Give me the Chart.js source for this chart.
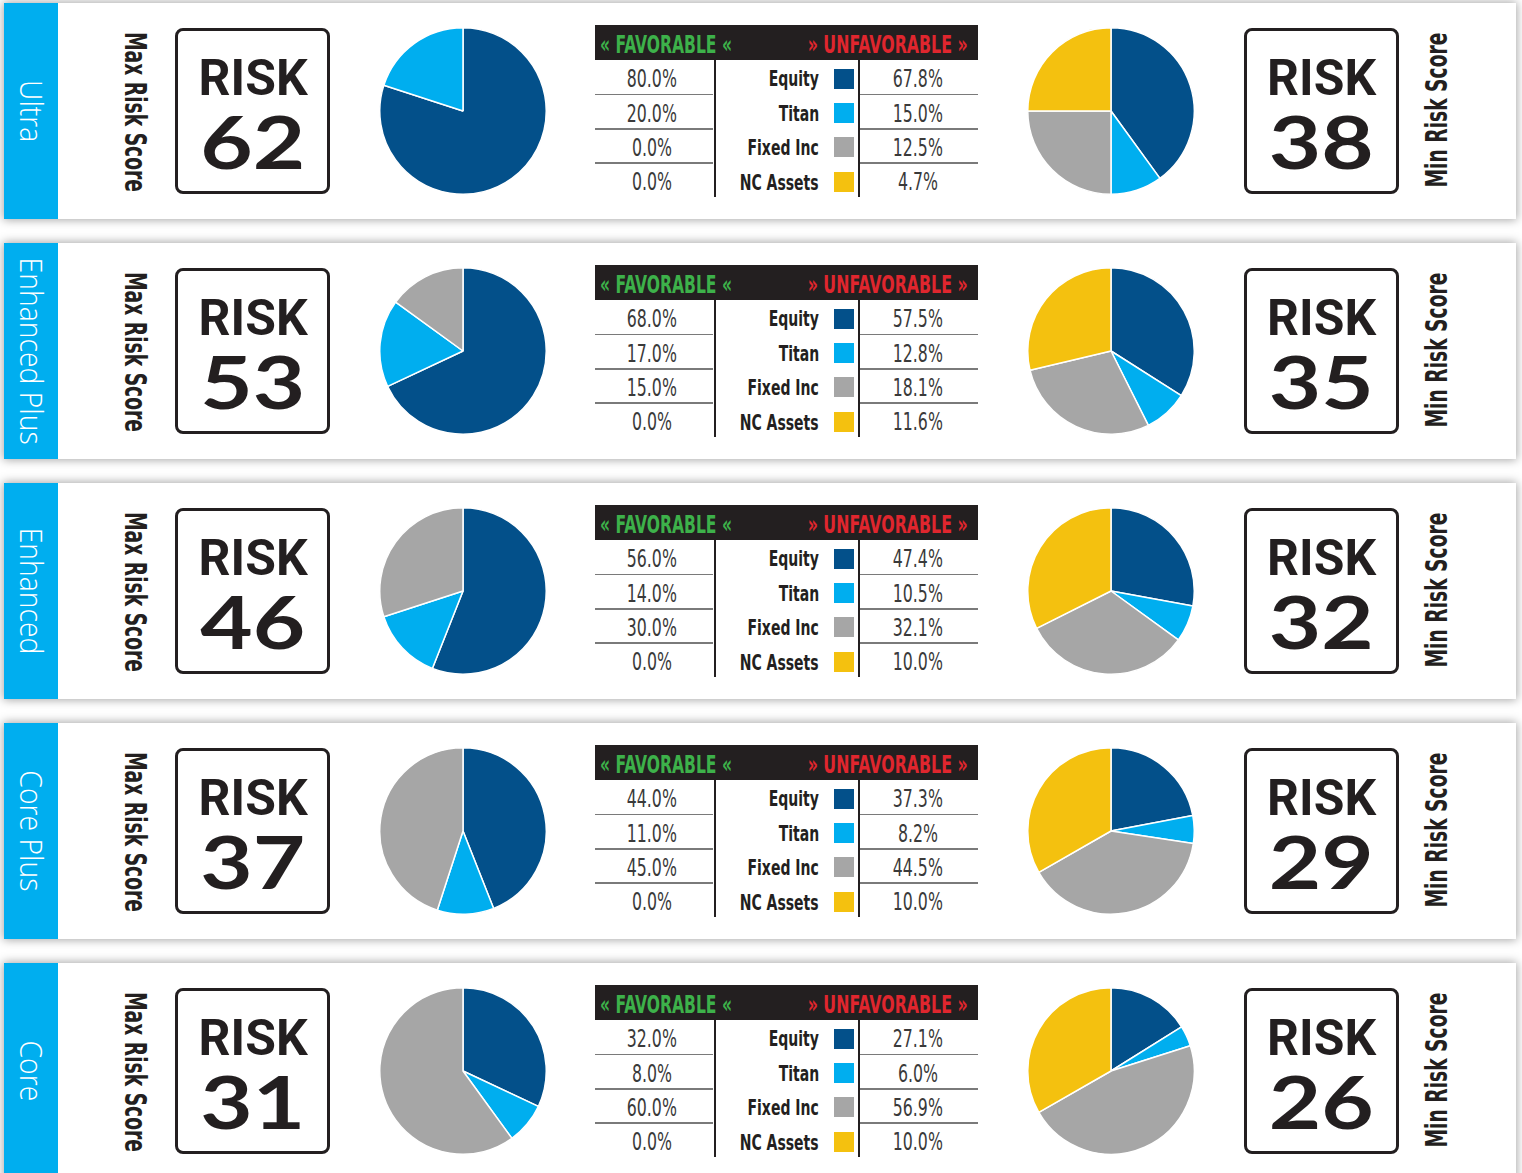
<!DOCTYPE html>
<html>
<head>
<meta charset="utf-8">
<title>Risk Score Portfolios</title>
<script src="https://cdn.jsdelivr.net/npm/chart.js@4.4.1/dist/chart.umd.min.js"></script>
<style>
    body {
        margin: 0;
        width: 1522px;
        height: 1173px;
        overflow: hidden;
        position: relative;
        background: #fff;
    }
    .panel {
        position: absolute;
        left: 4px;
        width: 1512px;
        height: 216px;
        background: #fff;
        box-shadow: 0 0 9px 1px rgba(0, 0, 0, 0.35);
    }
    .side {
        position: absolute;
        left: 0;
        top: 0;
        width: 54px;
        height: 100%;
        background: #00aeef;
    }
    .t {
        position: absolute;
        left: 0;
        top: 0;
        white-space: nowrap;
        line-height: 0.75;
    }
    .b {
        display: inline-block;
        width: 0;
        height: 0;
    }
    .box {
        position: absolute;
        top: 25px;
        width: 149px;
        height: 160px;
        border: 3px solid #231f20;
        border-radius: 8px;
    }
    .hdr {
        position: absolute;
        left: 591px;
        top: 22px;
        width: 383px;
        height: 35px;
        background: #231f20;
    }
    .hl {
        position: absolute;
        height: 1.5px;
        width: 118px;
        background: #7a7a7a;
    }
    .vl {
        position: absolute;
        top: 57px;
        width: 2.5px;
        height: 137px;
        background: #231f20;
    }
    .sw {
        position: absolute;
        width: 20px;
        height: 20px;
    }
    canvas {
        position: absolute;
    }
</style>
</head>
<body>
<script>
// Portfolio data
const portfolios = ['Ultra', 'Enhanced Plus', 'Enhanced', 'Core Plus', 'Core'];
const maxRiskScores = [62, 53, 46, 37, 31];
const minRiskScores = [38, 35, 32, 29, 26];
const assetClasses = ['Equity', 'Titan', 'Fixed Inc', 'NC Assets'];

// Allocation per portfolio: Equity, Titan, Fixed Inc, NC Assets
const favorableMix = [
    [80.0, 20.0, 0.0, 0.0],
    [68.0, 17.0, 15.0, 0.0],
    [56.0, 14.0, 30.0, 0.0],
    [44.0, 11.0, 45.0, 0.0],
    [32.0, 8.0, 60.0, 0.0]
];
const unfavorableMix = [
    [67.8, 15.0, 12.5, 4.7],
    [57.5, 12.8, 18.1, 11.6],
    [47.4, 10.5, 32.1, 10.0],
    [37.3, 8.2, 44.5, 10.0],
    [27.1, 6.0, 56.9, 10.0]
];
// Right-hand pies as drawn in the picture (slice shares)
const unfavorablePie = [
    [40.0, 10.0, 25.0, 25.0],
    [34.0, 8.6, 28.7, 28.7],
    [27.9, 7.1, 32.6, 32.4],
    [22.0, 5.4, 39.3, 33.3],
    [16.1, 4.0, 46.6, 33.3]
];

// Styling
const sliceColors = ['#03508a', '#00aeef', '#a6a6a6', '#f4c10f'];
const COND = '"Liberation Sans Narrow", "DejaVu Sans Condensed", "Roboto Condensed", "Liberation Sans", sans-serif';
const SIDE_FONT = '300 32px "Open Sans", Lato, sans-serif';
const TITLE_FONT = `bold 30px ${COND}`;
const RISK_FONT = 'bold 50px Roboto, "Liberation Sans", sans-serif';
const NUM_FONT = 'bold 72px Lato, "Open Sans", sans-serif';
const VALUE_FONT = `24px ${COND}`;
const LABEL_FONT = `bold 22px ${COND}`;
const HDR_FONT = `bold 24px ${COND}`;

const measureCtx = document.createElement('canvas').getContext('2d');
function measure(str, font) {
    measureCtx.font = font;
    return measureCtx.measureText(str).width;
}

// horizontal squeeze for each text group, from widths seen in the picture
const sideScale = 187 / measure('Enhanced Plus', SIDE_FONT);
const titleScale = 160 / measure('Max Risk Score', TITLE_FONT);
const riskScale = 109 / measure('RISK', RISK_FONT);
const numScale = 105 / measure('62', NUM_FONT);
const valueScale = 50 / measure('80.0%', VALUE_FONT);
const labelScale = 79 / measure('NC Assets', LABEL_FONT);
const favScale = 132 / measure('\u00ab FAVORABLE \u00ab', HDR_FONT);
const unfavScale = 160 / measure('\u00bb UNFAVORABLE \u00bb', HDR_FONT);

// Put a text so that the middle of its capitals lands on (cx, cy)
function addText(parent, str, font, color, cx, cy, sx, rot, anchor) {
    const el = document.createElement('div');
    el.className = 't';
    el.style.font = font;
    el.style.lineHeight = '0.75';
    el.style.color = color;
    el.textContent = str;
    const marker = document.createElement('span');
    marker.className = 'b';
    el.appendChild(marker);
    parent.appendChild(el);

    const w = el.offsetWidth;
    const fs = parseFloat(getComputedStyle(el).fontSize);
    const oy = marker.offsetTop - 0.36 * fs;
    let x = cx;
    if (anchor === 'right') x = cx - (w * sx) / 2;
    if (anchor === 'left') x = cx + (w * sx) / 2;
    el.style.transformOrigin = `${w / 2}px ${oy}px`;
    el.style.transform = `translate(${x - w / 2}px, ${cy - oy}px) rotate(${rot || 0}deg) scaleX(${sx})`;
    return el;
}

function addDiv(parent, cls, css) {
    const el = document.createElement('div');
    el.className = cls;
    Object.assign(el.style, css);
    parent.appendChild(el);
    return el;
}

function createPie(parent, left, values) {
    const canvas = document.createElement('canvas');
    canvas.width = 168;
    canvas.height = 168;
    canvas.style.left = left + 'px';
    canvas.style.top = '24px';
    parent.appendChild(canvas);

    return new Chart(canvas, {
        type: 'pie',
        data: {
            labels: assetClasses,
            datasets: [{
                data: values,
                backgroundColor: sliceColors,
                borderColor: '#ffffff',
                borderWidth: 1.5,
                hoverOffset: 0
            }]
        },
        options: {
            responsive: false,
            animation: false,
            layout: { padding: 0 },
            plugins: {
                legend: { display: false },
                tooltip: { enabled: false }
            }
        }
    });
}

function riskBox(panel, left, cx, score) {
    addDiv(panel, 'box', { left: left + 'px' });
    addText(panel, 'RISK', RISK_FONT, '#231f20', cx, 74, riskScale);
    addText(panel, String(score), NUM_FONT, '#231f20', cx, 140, numScale);
}

const pct = v => v.toFixed(1) + '%';

portfolios.forEach((name, i) => {
    const panel = addDiv(document.body, 'panel', { top: (3 + 240 * i) + 'px' });
    addDiv(panel, 'side', {});
    addText(panel, name, SIDE_FONT, '#ffffff', 28, 108, sideScale, 90);

    addText(panel, 'Max Risk Score', TITLE_FONT, '#231f20', 132, 109, titleScale, 90);
    riskBox(panel, 171, 249, maxRiskScores[i]);
    createPie(panel, 375, favorableMix[i]);

    // allocation table
    addDiv(panel, 'hdr', {});
    addText(panel, '\u00ab FAVORABLE \u00ab', HDR_FONT, '#3db14a', 596, 41, favScale, 0, 'left');
    addText(panel, '\u00bb UNFAVORABLE \u00bb', HDR_FONT, '#e0262e', 964, 41, unfavScale, 0, 'right');

    assetClasses.forEach((asset, j) => {
        const cy = 75.5 + 34.4 * j;
        addText(panel, pct(favorableMix[i][j]), VALUE_FONT, '#3a3a3a', 648, cy, valueScale);
        addText(panel, asset, LABEL_FONT, '#231f20', 815, cy, labelScale, 0, 'right');
        addDiv(panel, 'sw', { left: '830px', top: (cy - 10) + 'px', background: sliceColors[j] });
        addText(panel, pct(unfavorableMix[i][j]), VALUE_FONT, '#3a3a3a', 914, cy, valueScale);
        if (j > 0) {
            const ly = (57 + 34.4 * j - 0.75) + 'px';
            addDiv(panel, 'hl', { left: '591px', top: ly });
            addDiv(panel, 'hl', { left: '856px', top: ly });
        }
    });
    addDiv(panel, 'vl', { left: '709.5px' });
    addDiv(panel, 'vl', { left: '853.5px' });

    createPie(panel, 1023, unfavorablePie[i]);
    riskBox(panel, 1240, 1317.5, minRiskScores[i]);
    addText(panel, 'Min Risk Score', TITLE_FONT, '#231f20', 1432.5, 107, titleScale, -90);
});
</script>
</body>
</html>
